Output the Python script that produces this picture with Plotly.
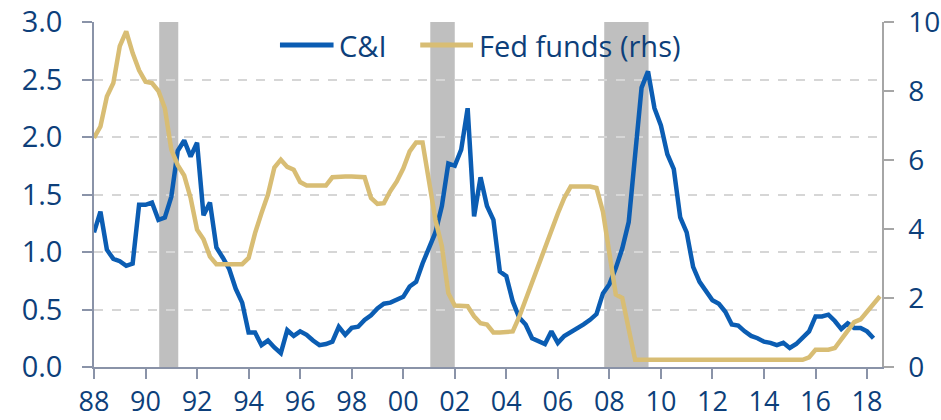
import pandas as pd
import plotly.graph_objects as go

# ---------------- data ----------------
ci_quarters = pd.period_range("1988Q1", "2018Q2", freq="Q")
ci_values = [
    1.17, 1.35, 1.02, 0.94,   # 1988
    0.92, 0.88, 0.90, 1.41,   # 1989
    1.41, 1.43, 1.28, 1.30,   # 1990
    1.48, 1.88, 1.97, 1.83,   # 1991
    1.95, 1.32, 1.43, 1.04,   # 1992
    0.95, 0.85, 0.68, 0.56,   # 1993
    0.30, 0.30, 0.19, 0.23,   # 1994
    0.17, 0.12, 0.32, 0.27,   # 1995
    0.31, 0.28, 0.23, 0.19,   # 1996
    0.20, 0.22, 0.35, 0.28,   # 1997
    0.34, 0.35, 0.41, 0.45,   # 1998
    0.51, 0.55, 0.56, 0.58,   # 1999
    0.61, 0.70, 0.74, 0.90,   # 2000
    1.03, 1.17, 1.40, 1.77,   # 2001
    1.75, 1.89, 2.25, 1.31,   # 2002
    1.65, 1.40, 1.28, 0.83,   # 2003
    0.79, 0.57, 0.43, 0.37,   # 2004
    0.25, 0.23, 0.20, 0.31,   # 2005
    0.21, 0.27, 0.30, 0.34,   # 2006
    0.37, 0.41, 0.46, 0.64,   # 2007
    0.72, 0.86, 1.03, 1.26,   # 2008
    1.90, 2.43, 2.57, 2.25,   # 2009
    2.10, 1.85, 1.72, 1.30,   # 2010
    1.17, 0.87, 0.74, 0.66,   # 2011
    0.58, 0.55, 0.48, 0.37,   # 2012
    0.36, 0.31, 0.27, 0.25,   # 2013
    0.22, 0.21, 0.19, 0.21,   # 2014
    0.165, 0.20, 0.25, 0.31,  # 2015
    0.44, 0.44, 0.455, 0.40,  # 2016
    0.33, 0.38, 0.34, 0.34,   # 2017
    0.31, 0.25,               # 2018
]

fed_quarters = pd.period_range("1988Q1", "2018Q3", freq="Q")
fed_values = [
    6.64, 6.97, 7.84, 8.23,   # 1988
    9.30, 9.73, 9.10, 8.60,   # 1989
    8.27, 8.23, 8.00, 7.50,   # 1990
    6.30, 5.85, 5.55, 4.90,   # 1991
    3.98, 3.70, 3.20, 2.98,   # 1992
    2.98, 2.98, 2.98, 2.98,   # 1993
    3.16, 3.88, 4.46, 5.00,   # 1994
    5.78, 6.01, 5.80, 5.72,   # 1995
    5.36, 5.26, 5.26, 5.26,   # 1996
    5.26, 5.50, 5.52, 5.52,   # 1997
    5.52, 5.52, 5.50, 4.90,   # 1998
    4.73, 4.75, 5.10, 5.38,   # 1999
    5.75, 6.25, 6.51, 6.51,   # 2000
    5.45, 4.27, 3.50, 2.14,   # 2001
    1.78, 1.78, 1.76, 1.47,   # 2002
    1.27, 1.23, 1.00, 1.00,   # 2003
    1.00, 1.03, 1.45, 1.98,   # 2004
    2.47, 2.95, 3.45, 3.97,   # 2005
    4.45, 4.90, 5.23, 5.23,   # 2006
    5.23, 5.23, 5.19, 4.50,   # 2007
    3.30, 2.10, 2.00, 1.10,   # 2008
    0.21, 0.21, 0.21, 0.21,   # 2009
    0.21, 0.21, 0.21, 0.21,   # 2010
    0.21, 0.21, 0.21, 0.21,   # 2011
    0.21, 0.21, 0.21, 0.21,   # 2012
    0.21, 0.21, 0.21, 0.21,   # 2013
    0.21, 0.21, 0.21, 0.21,   # 2014
    0.21, 0.21, 0.21, 0.28,   # 2015
    0.50, 0.50, 0.50, 0.55,   # 2016
    0.80, 1.05, 1.30, 1.38,   # 2017
    1.60, 1.85, 2.05,         # 2018
]

recession_start = [1990.53, 2001.05, 2007.8]
recession_end = [1991.27, 2002.0, 2009.52]

tick_years = list(range(1988, 2019, 2))
tick_labels = ["88", "90", "92", "94", "96", "98", "00", "02", "04", "06",
               "08", "10", "12", "14", "16", "18"]

series_names = ["C&I", "Fed funds (rhs)"]

# ---------------- styling ----------------
BLUE = "#0b5db3"
GOLD = "#d8bd74"
TEXT = "#0d3f7a"
AXIS = "#8a93a8"
AXIS_R = "#a6a6a6"
GRID = "#d6d6d6"
FONT = "Open Sans"
FS = 29


def to_year(periods):
    return [p.year + (p.quarter - 1) / 4 for p in periods]


fig = go.Figure()
fig.add_trace(go.Scatter(x=to_year(ci_quarters), y=ci_values, mode="lines",
                         name=series_names[0], line=dict(color=BLUE, width=4.5),
                         showlegend=False))
fig.add_trace(go.Scatter(x=to_year(fed_quarters), y=fed_values, mode="lines",
                         name=series_names[1], yaxis="y2",
                         line=dict(color=GOLD, width=4.5), showlegend=False))

for s, e in zip(recession_start, recession_end):
    fig.add_shape(type="rect", xref="x", yref="paper", x0=s, x1=e, y0=0, y1=1,
                  fillcolor="#bfbfbf", line=dict(width=0), layer="between")

# legend (manual, to match long swatches)
legend_y = 0.933
swatches = [(0.236, 0.304, BLUE, 0.308), (0.414, 0.481, GOLD, 0.486)]
for (x0, x1, col, tx), name in zip(swatches, series_names):
    fig.add_shape(type="line", xref="paper", yref="paper", x0=x0, x1=x1,
                  y0=legend_y, y1=legend_y, line=dict(color=col, width=5),
                  layer="above")
    fig.add_annotation(xref="paper", yref="paper", x=tx, y=legend_y, text=name,
                       showarrow=False, xanchor="left", yanchor="middle",
                       font=dict(family=FONT, size=FS, color=TEXT))

fig.update_layout(
    width=941, height=420,
    margin=dict(l=94, r=59, t=22, b=53, autoexpand=False),
    paper_bgcolor="white", plot_bgcolor="white",
    font=dict(family=FONT, size=FS, color=TEXT),
    showlegend=False,
    xaxis=dict(range=[1988, 2018.58], tickmode="array", tickvals=tick_years,
               ticktext=tick_labels, ticks="outside", ticklen=10,
               tickcolor=AXIS, tickwidth=1.5, showline=True, linecolor=AXIS,
               linewidth=1.5, showgrid=False, zeroline=False, automargin=False,
               ticklabelstandoff=0,
               tickfont=dict(family=FONT, size=27, color=TEXT)),
    yaxis=dict(range=[0, 3], dtick=0.5, tickformat=".1f", ticks="outside",
               ticklen=10, tickcolor=AXIS, tickwidth=1.5, showline=True,
               linecolor=AXIS, linewidth=1.5, showgrid=True, gridcolor=GRID,
               griddash="dash", gridwidth=1.5, zeroline=False, automargin=False,
               ticklabelstandoff=14,
               tickfont=dict(family=FONT, size=FS, color=TEXT)),
    yaxis2=dict(range=[0, 10], dtick=2, overlaying="y", side="right",
                ticks="outside", ticklen=10, tickcolor=AXIS_R, tickwidth=1.5,
                showline=True, linecolor=AXIS_R, linewidth=1.5, showgrid=False,
                zeroline=False, automargin=False, ticklabelstandoff=9,
                tickfont=dict(family=FONT, size=28, color=TEXT)),
)

fig.write_html("out.html", config={"displayModeBar": False},
               post_script="document.body.style.margin='0';"
                           "document.body.style.overflow='hidden';")
